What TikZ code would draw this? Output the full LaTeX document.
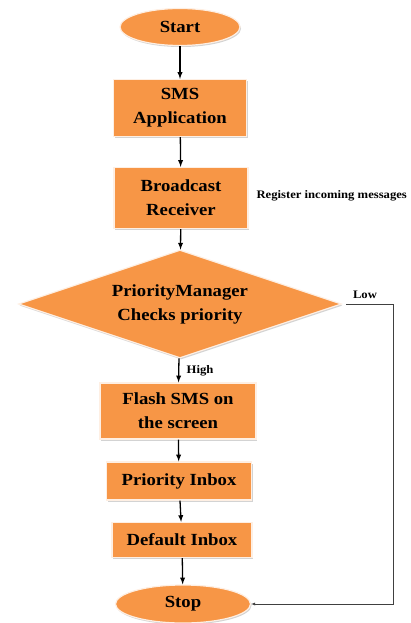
\documentclass[tikz,border=0pt]{standalone}
\usepackage{fontspec}
\setmainfont[FakeStretch=1.1]{Liberation Serif}
\usepackage{tikz}
\usetikzlibrary{shapes.geometric}
\usetikzlibrary{shadows}
\definecolor{boxorange}{HTML}{F79646}
\tikzset{
	block/.style={rectangle, fill=boxorange, draw=white!85!boxorange, line width=1.2pt, drop shadow={opacity=0.35, shadow xshift=1pt, shadow yshift=-1.5pt}, align=center, font=\fontsize{17}{24}\selectfont\bfseries},
	terminal/.style={ellipse, fill=boxorange, draw=white!85!boxorange, line width=1.2pt, drop shadow={opacity=0.35, shadow xshift=1pt, shadow yshift=-1.5pt}, font=\fontsize{17}{24}\selectfont\bfseries},
	decision/.style={diamond, shape aspect=3, inner sep=1pt, fill=boxorange, draw=white!85!boxorange, line width=1.2pt, drop shadow={opacity=0.35, shadow xshift=1pt, shadow yshift=-1.5pt}, align=center, font=\fontsize{17}{24}\selectfont\bfseries},
	note/.style={font=\fontsize{11.5}{13}\selectfont\bfseries},
	flow/.style={-latex, line width=1.3pt}
}

\begin{document}
\begin{tikzpicture}[x=1pt, y=-1pt]
	\useasboundingbox (0,0) rectangle (410,623);
	\node[terminal, minimum width=120, minimum height=37] (start) at (180,27) {Start};
	\node[block, minimum width=133, minimum height=57] (sms) at (180,108) {SMS\\Application};
	\node[block, minimum width=134, minimum height=61] (recv) at (181,198) {Broadcast\\Receiver};
	\node[note, anchor=west] (reg) at (253,196) {Register incoming messages};
	\node[decision, minimum width=323, minimum height=108] (check) at (180,304) {PriorityManager\\Checks priority};
	\node[block, minimum width=156, minimum height=56] (flash) at (178,411) {Flash SMS on\\the screen};
	\node[block, minimum width=145, minimum height=38] (prio) at (179,481) {Priority Inbox};
	\node[block, minimum width=140, minimum height=35] (deflt) at (182,540) {Default Inbox};
	\node[terminal, minimum width=135, minimum height=38] (stop) at (183,604) {Stop};
	\coordinate (lowturn) at (393,304);

	\draw[flow] (start) -- (sms);
	\draw[flow] (sms) -- (recv);
	\draw[flow] (recv) -- (check);
	\draw[flow] (check) -- (flash) node[note, pos=0.5, right=4pt] {High};
	\draw[flow] (flash) -- (prio);
	\draw[flow] (prio) -- (deflt);
	\draw[flow] (deflt) -- (stop);
	\draw[-latex, black!75, shorten <=4pt] (check.east) -- (lowturn) node[note, pos=0.45, above=2pt, black] {Low} |- (stop.east);
\end{tikzpicture}
\end{document}
